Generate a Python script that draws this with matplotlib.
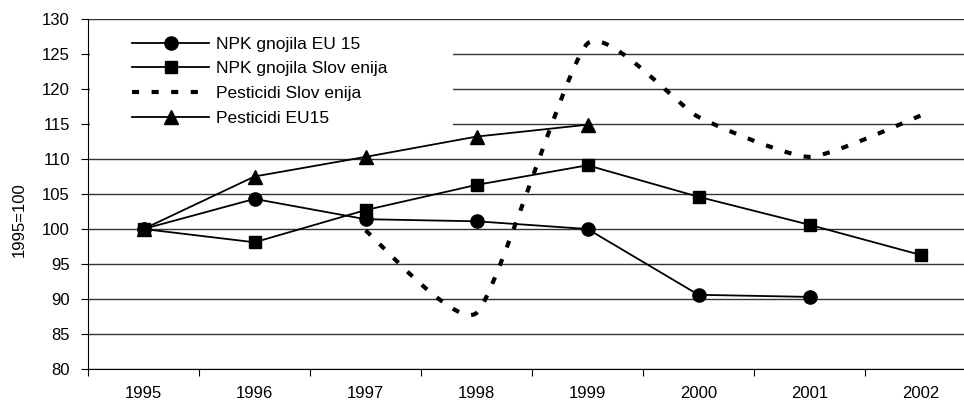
import numpy as np
import matplotlib
matplotlib.use("Agg")
import matplotlib.pyplot as plt
from matplotlib.patches import Rectangle

years = ["1995", "1996", "1997", "1998", "1999", "2000", "2001", "2002"]
npk_eu15 = [100, 104.3, 101.4, 101.1, 100.0, 90.6, 90.3, None]
npk_slo = [100, 98.1, 102.7, 106.3, 109.1, 104.6, 100.6, 96.3]
pest_slo = [None, None, 99.8, 88.0, 126.5, 116.0, 110.3, 116.2]
pest_eu15 = [100, 107.5, 110.3, 113.2, 114.9, None, None, None]

# px per unit on screen (x: one category, y: one index point)
SX, SY = 111.0, 7.0


def smooth(xs, ys, k=0.09, n=40):
    # light bezier smoothing, done in screen space like excel
    p = np.column_stack([np.asarray(xs, float) * SX, np.asarray(ys, float) * SY])
    m = len(p)
    tang = np.zeros_like(p)
    for i in range(m):
        a = p[max(i - 1, 0)]
        b = p[min(i + 1, m - 1)]
        tang[i] = b - a
    t = np.linspace(0, 1, n)[:, None]
    out = []
    for i in range(m - 1):
        p1, p2 = p[i], p[i + 1]
        c1 = p1 + tang[i] * k
        c2 = p2 - tang[i + 1] * k
        seg = (1 - t) ** 3 * p1 + 3 * (1 - t) ** 2 * t * c1 + 3 * (1 - t) * t ** 2 * c2 + t ** 3 * p2
        out.append(seg)
    out = np.vstack(out)
    return out[:, 0] / SX, out[:, 1] / SY


def pts(vals):
    x = [i for i, v in enumerate(vals) if v is not None]
    y = [v for v in vals if v is not None]
    return x, y


plt.rcParams["font.family"] = ["Liberation Sans", "DejaVu Sans"]
plt.rcParams["font.size"] = 12

fig = plt.figure(figsize=(9.64, 4.05), dpi=100)
ax = fig.add_axes([88 / 964, 36 / 405, 888 / 964, 350 / 405])

x, y = pts(npk_eu15)
ax.plot(x, y, color="black", lw=1.3, marker="o", ms=9.5, label="NPK gnojila EU 15", zorder=4)
x, y = pts(npk_slo)
ax.plot(x, y, color="black", lw=1.3, marker="s", ms=9, label="NPK gnojila Slov enija", zorder=4)
x, y = pts(pest_slo)
sx, sy = smooth(x, y)
ax.plot(sx, sy, color="black", lw=3, dashes=(1.7, 3.0), dash_capstyle="butt",
        label="Pesticidi Slov enija", zorder=3)
x, y = pts(pest_eu15)
ax.plot(x, y, color="black", lw=1.3, marker="^", ms=9.5, label="Pesticidi EU15", zorder=4)

ax.set_ylim(80, 130)
ax.set_yticks(range(80, 131, 5))
ax.set_xlim(-0.5, 7.5)
ax.set_xticks(np.arange(-0.5, 8, 1))
ax.set_xticklabels([])
ax.set_xticks(range(8), years, minor=True)
ax.tick_params(axis="x", which="major", length=5, direction="out", color="black")
ax.tick_params(axis="x", which="minor", length=0, pad=12, labelsize=12)
ax.tick_params(axis="y", length=5, direction="out", pad=8, labelsize=12)
ax.yaxis.grid(True, color="#333333", lw=1)
ax.set_axisbelow(True)
for s in ["top", "right"]:
    ax.spines[s].set_visible(False)
ax.spines["left"].set_color("black")
ax.spines["bottom"].set_color("black")
fig.text(19 / 964, 1 - 220 / 405, "1995=100", rotation=90, ha="center", va="center", fontsize=12)

# white legend area hides the gridlines behind it
ax.add_patch(Rectangle((0.002, 0.67), 0.409, 0.318, transform=ax.transAxes,
                       facecolor="white", edgecolor="none", zorder=1))
ax.legend(loc="upper left", bbox_to_anchor=(0.05, 0.95), frameon=False, borderpad=0,
          borderaxespad=0, handlelength=4.4, handletextpad=0.4, labelspacing=0.55, fontsize=12.5)

fig.savefig("out.png", dpi=100)
